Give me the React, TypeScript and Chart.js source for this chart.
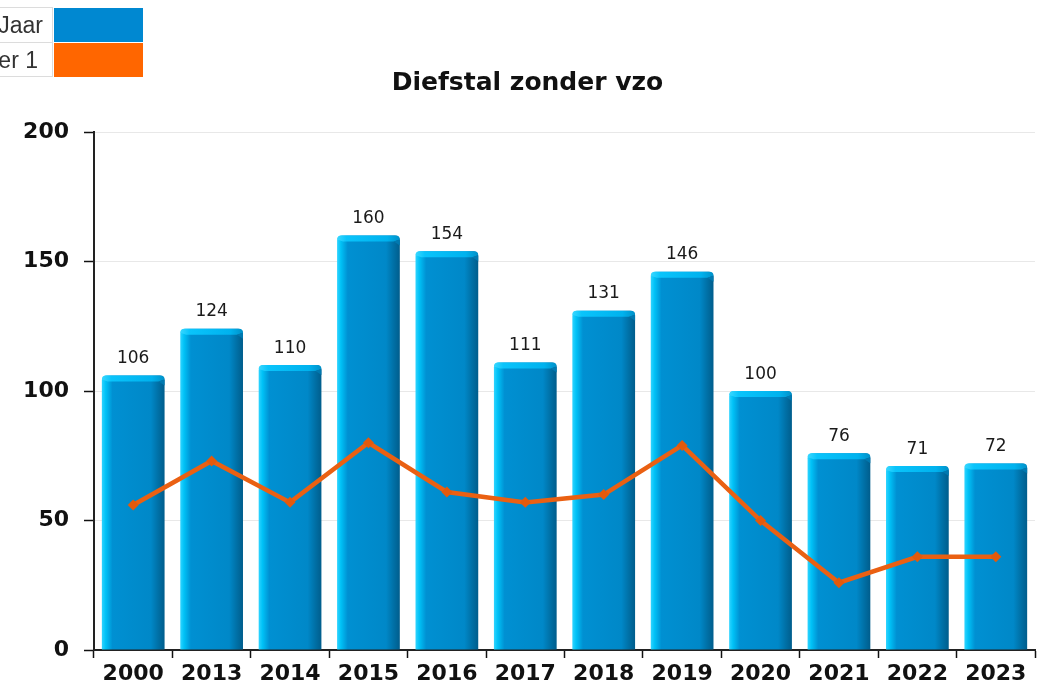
import React, { useEffect, useRef } from "react";
import { Chart, registerables } from "chart.js";

Chart.register(...registerables);

const categories = ["2000", "2013", "2014", "2015", "2016", "2017", "2018", "2019", "2020", "2021", "2022", "2023"];
const jaarValues = [106, 124, 110, 160, 154, 111, 131, 146, 100, 76, 71, 72];
const semesterValues = [56, 73, 57, 80, 61, 57, 60, 79, 50, 26, 36, 36];
const yTicks = [0, 50, 100, 150, 200];
const chartTitle = "Diefstal zonder vzo";
const legendLabels = ["Jaar", "Semester 1"];
const legendColors = ["#0088d1", "#ff6600"];

const W = 1045;
const H = 688;

const barShade = {
  id: "barShade",
  afterDatasetDraw(chart: any, args: any) {
    if (args.index !== 0) return;
    const ctx = chart.ctx;
    const meta = args.meta;
    ctx.save();
    meta.data.forEach((el: any) => {
      const p = el.getProps(["x", "y", "width", "base"], true);
      const left = p.x - p.width / 2;
      const right = p.x + p.width / 2;
      const top = p.y;
      const h = 6;
      const g = ctx.createLinearGradient(left, 0, right, 0);
      g.addColorStop(0, "#3ad8ff");
      g.addColorStop(0.15, "#0ac4fb");
      g.addColorStop(0.8, "#00b2ee");
      g.addColorStop(1, "#0090c8");
      ctx.beginPath();
      ctx.moveTo(left, top + 4);
      ctx.quadraticCurveTo(left, top, left + 4, top);
      ctx.lineTo(right - 4, top);
      ctx.quadraticCurveTo(right, top, right, top + 4);
      ctx.lineTo(right - h, top + h);
      ctx.lineTo(left + h, top + h);
      ctx.closePath();
      ctx.fillStyle = g;
      ctx.fill();
      ctx.beginPath();
      ctx.moveTo(right, top + 4);
      ctx.lineTo(right, top + h + 4);
      ctx.lineTo(right - h, top + h);
      ctx.closePath();
      ctx.fillStyle = "#0079b0";
      ctx.fill();
    });
    ctx.restore();
  },
};

const valueLabels = {
  id: "valueLabels",
  afterDatasetsDraw(chart: any) {
    const ctx = chart.ctx;
    const meta = chart.getDatasetMeta(0);
    ctx.save();
    ctx.font = "17px 'DejaVu Sans'";
    ctx.fillStyle = "#1a1a1a";
    ctx.textAlign = "center";
    ctx.textBaseline = "alphabetic";
    meta.data.forEach((el: any, i: number) => {
      const p = el.getProps(["x", "y"], true);
      ctx.fillText(String(jaarValues[i]), p.x, p.y - 12.5);
    });
    ctx.restore();
  },
};

function barGradient(c: any) {
  const chart = c.chart;
  const xs = chart.scales && chart.scales.x;
  if (!xs || c.type !== "data" || !xs.width) return "#0088cc";
  const center = xs.getPixelForValue(c.dataIndex);
  const w = (xs.width / categories.length) * 0.8;
  const g = chart.ctx.createLinearGradient(center - w / 2, 0, center + w / 2, 0);
  g.addColorStop(0, "#2fd4ff");
  g.addColorStop(0.06, "#00c2f7");
  g.addColorStop(0.17, "#0090d2");
  g.addColorStop(0.78, "#0088c8");
  g.addColorStop(0.9, "#0070a6");
  g.addColorStop(1, "#005d8c");
  return g;
}

export default function App() {
  const ref = useRef<HTMLCanvasElement | null>(null);

  useEffect(() => {
    if (!ref.current) return;
    const chart = new Chart(ref.current, {
      type: "bar",
      data: {
        labels: categories,
        datasets: [
          {
            type: "bar",
            label: legendLabels[0],
            data: jaarValues,
            backgroundColor: barGradient as any,
            borderWidth: 0,
            borderRadius: { topLeft: 5, topRight: 5, bottomLeft: 0, bottomRight: 0 },
            borderSkipped: "bottom",
            barPercentage: 0.8,
            categoryPercentage: 1,
            order: 2,
          },
          {
            type: "line",
            label: legendLabels[1],
            data: semesterValues,
            borderColor: "#ea6012",
            borderWidth: 4.5,
            tension: 0,
            pointStyle: "rectRot",
            pointRadius: 5.5,
            pointBackgroundColor: "#e35a0c",
            pointBorderWidth: 0,
            order: 1,
          } as any,
        ],
      },
      options: {
        responsive: false,
        animation: false,
        layout: { padding: { left: 20, right: 10, top: 0, bottom: 0 } },
        plugins: {
          legend: { display: false },
          tooltip: { enabled: false },
          title: {
            display: true,
            text: chartTitle,
            color: "#111",
            font: { family: "'DejaVu Sans'", size: 25, weight: "bold" },
            padding: { top: 68, bottom: 34 },
          },
        },
        scales: {
          x: {
            type: "category",
            offset: true,
            grid: {
              offset: true,
              drawOnChartArea: false,
              drawTicks: true,
              tickLength: 8,
              tickColor: "#111",
              tickWidth: 1.5,
            },
            border: { display: true, color: "#222", width: 2 },
            ticks: {
              color: "#111",
              font: { family: "'DejaVu Sans'", size: 22, weight: "bold" },
              padding: 3,
              maxRotation: 0,
              autoSkip: false,
            },
            afterFit: (s: any) => {
              s.height = 38;
            },
          },
          y: {
            min: 0,
            max: 200,
            afterBuildTicks: (s: any) => {
              s.ticks = yTicks.map((v) => ({ value: v }));
            },
            grid: {
              color: "#e8e8e8",
              lineWidth: 1,
              drawTicks: true,
              tickLength: 10,
              tickColor: "#111",
              tickWidth: 1.5,
            },
            border: { display: true, color: "#222", width: 2 },
            ticks: {
              color: "#111",
              font: { family: "'DejaVu Sans'", size: 22, weight: "bold" },
              padding: 15,
            },
            afterFit: (s: any) => {
              s.width = 74;
            },
          },
        },
      },
      plugins: [barShade, valueLabels],
    });
    return () => chart.destroy();
  }, []);

  const rowTops = [7, 42];
  const rowPadRight = [9, 14];
  return (
    <div style={{ position: "fixed", left: 0, top: 0, width: W, height: H, background: "#fff", overflow: "hidden" }}>
      <canvas ref={ref} width={W} height={H} style={{ position: "absolute", left: 0, top: 0, width: W, height: H }} />
      {legendLabels.map((lab, i) => (
        <React.Fragment key={lab}>
          <div
            style={{
              position: "absolute",
              left: -150,
              top: rowTops[i],
              width: 203,
              height: 35,
              boxSizing: "border-box",
              borderTop: "1px solid #dcdcdc",
              borderBottom: i === legendLabels.length - 1 ? "1px solid #dcdcdc" : "none",
              borderRight: "1px solid #dcdcdc",
              textAlign: "right",
              paddingRight: rowPadRight[i],
              fontFamily: "'Liberation Sans', Arial, sans-serif",
              fontSize: 23,
              lineHeight: "34px",
              color: "#333",
              whiteSpace: "nowrap",
            }}
          >
            {lab}
          </div>
          <div
            style={{
              position: "absolute",
              left: 54,
              top: rowTops[i] + 1,
              width: 88,
              height: 34,
              background: legendColors[i],
              borderRight: `1px solid ${legendColors[i]}`,
            }}
          />
        </React.Fragment>
      ))}
    </div>
  );
}
